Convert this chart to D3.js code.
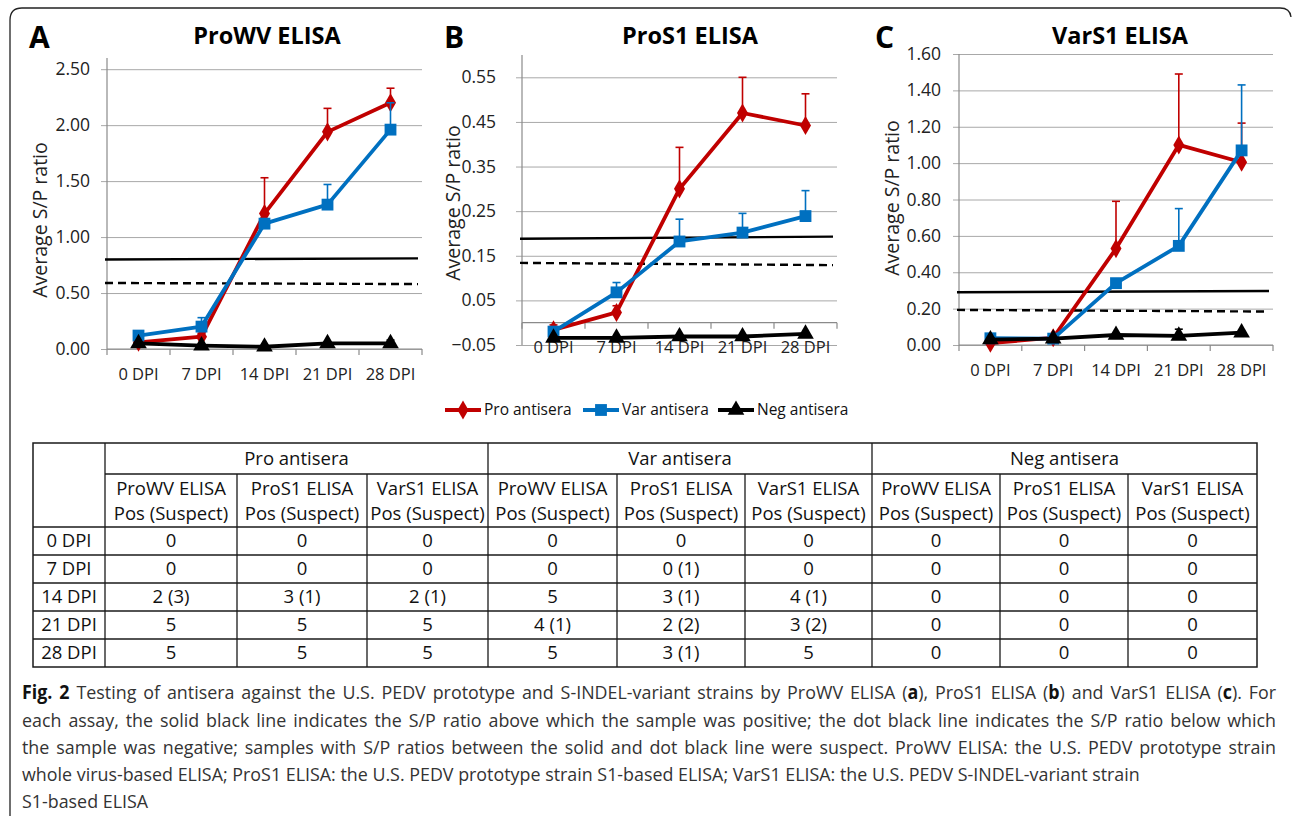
<!DOCTYPE html>
<html>
<head>
<meta charset="utf-8">
<script src="https://cdn.jsdelivr.net/npm/d3@7"></script>
<style>
body { margin: 0; background: #fff; }
text { font-family: "Open Sans", sans-serif; }
</style>
</head>
<body>
<script>
// ---- data ----
var dpi = ["0 DPI", "7 DPI", "14 DPI", "21 DPI", "28 DPI"];
var seriesNames = ["Pro antisera", "Var antisera", "Neg antisera"];

// ProWV ELISA
var proWV     = [0.06, 0.11, 1.21, 1.94, 2.20];
var proWVHi   = [null, 0.14, 1.53, 2.15, 2.33];
var varWV     = [0.12, 0.20, 1.12, 1.29, 1.96];
var varWVHi   = [null, 0.28, null, 1.47, 2.20];
var negWV     = [0.05, 0.03, 0.02, 0.05, 0.05];
var negWVHi   = [null, null, null, null, 0.08];
var posCutWV  = [0.80, 0.81];
var negCutWV  = [0.59, 0.58];
var ticksWV   = [0, 0.5, 1.0, 1.5, 2.0, 2.5];

// ProS1 ELISA
var proS1     = [-0.016, 0.023, 0.30, 0.47, 0.442];
var proS1Hi   = [-0.005, 0.038, 0.393, 0.55, 0.513];
var varS1p    = [-0.02, 0.068, 0.182, 0.202, 0.239];
var varS1pHi  = [null, 0.09, 0.232, 0.245, 0.296];
var negS1p    = [-0.034, -0.034, -0.031, -0.031, -0.025];
var negS1pHi  = [null, null, null, null, null];
var posCutS1p = [0.188, 0.193];
var negCutS1p = [0.134, 0.129];
var ticksS1p  = [-0.05, 0.05, 0.15, 0.25, 0.35, 0.45, 0.55];

// VarS1 ELISA
var proVS1    = [0.01, 0.04, 0.53, 1.10, 1.005];
var proVS1Hi  = [null, null, 0.79, 1.49, 1.22];
var varVS1    = [0.037, 0.035, 0.34, 0.545, 1.07];
var varVS1Hi  = [null, null, null, 0.75, 1.43];
var negVS1    = [0.03, 0.035, 0.055, 0.05, 0.068];
var negVS1Hi  = [null, null, null, 0.087, null];
var posCutVS1 = [0.29, 0.297];
var negCutVS1 = [0.193, 0.184];
var ticksVS1  = [0, 0.2, 0.4, 0.6, 0.8, 1.0, 1.2, 1.4, 1.6];

// table
var groupHeads = ["Pro antisera", "Var antisera", "Neg antisera"];
var assayHeads = ["ProWV ELISA", "ProS1 ELISA", "VarS1 ELISA"];
var tableRows = [
  ["0 DPI",  "0",     "0",     "0",     "0",     "0",     "0",     "0", "0", "0"],
  ["7 DPI",  "0",     "0",     "0",     "0",     "0 (1)", "0",     "0", "0", "0"],
  ["14 DPI", "2 (3)", "3 (1)", "2 (1)", "5",     "3 (1)", "4 (1)", "0", "0", "0"],
  ["21 DPI", "5",     "5",     "5",     "4 (1)", "2 (2)", "3 (2)", "0", "0", "0"],
  ["28 DPI", "5",     "5",     "5",     "5",     "3 (1)", "5",     "0", "0", "0"]
];

var captionLines = [
  [["Fig. 2", true], [" Testing of antisera against the U.S. PEDV prototype and S-INDEL-variant strains by ProWV ELISA (", false], ["a", true], ["), ProS1 ELISA (", false], ["b", true], [") and VarS1 ELISA (", false], ["c", true], ["). For", false]],
  [["each assay, the solid black line indicates the S/P ratio above which the sample was positive; the dot black line indicates the S/P ratio below which", false]],
  [["the sample was negative; samples with S/P ratios between the solid and dot black line were suspect. ProWV ELISA: the U.S. PEDV prototype strain", false]],
  [["whole virus-based ELISA; ProS1 ELISA: the U.S. PEDV prototype strain S1-based ELISA; VarS1 ELISA: the U.S. PEDV S-INDEL-variant strain", false]],
  [["S1-based ELISA", false]]
];

// ---- layout ----
var colors = ["#c00000", "#0070c0", "#000000"];
var W = 1292, H = 818;

var svg = d3.select("body").append("svg")
  .attr("width", W).attr("height", H);

// frame
svg.append("path")
  .attr("d", "M10,816 L10,20 Q10,8 22,8 L1280,8 Q1290,8 1291,17")
  .attr("fill", "none").attr("stroke", "#222").attr("stroke-width", 1.3);

var panels = [
  {letter: "A", title: "ProWV ELISA", lx: 29, tx: 267, left: 107, right: 422, yBot: 349, yTop: 58, domain: [0, 2.6],
   ticks: ticksWV, gap: 17, ylx: 40, yly: 220,
   series: [[proWV, proWVHi], [varWV, varWVHi], [negWV, negWVHi]], pos: posCutWV, neg: negCutWV},
  {letter: "B", title: "ProS1 ELISA", lx: 444, tx: 690, left: 522, right: 837, yBot: 345, yTop: 55, domain: [-0.05, 0.6],
   ticks: ticksS1p, gap: 26, ylx: 453, yly: 203,
   series: [[proS1, proS1Hi], [varS1p, varS1pHi], [negS1p, negS1pHi]], pos: posCutS1p, neg: negCutS1p},
  {letter: "C", title: "VarS1 ELISA", lx: 875, tx: 1120, left: 959, right: 1273, yBot: 345, yTop: 54, domain: [0, 1.6],
   ticks: ticksVS1, gap: 18, ylx: 892, yly: 198,
   series: [[proVS1, proVS1Hi], [varVS1, varVS1Hi], [negVS1, negVS1Hi]], pos: posCutVS1, neg: negCutVS1}
];

var markerTypes = [d3.symbolDiamond, d3.symbolSquare, d3.symbolTriangle];
var markerSizes = [105, 140, 120];

function marker(g, i) {
  return g.append("path")
    .attr("d", d3.symbol().type(markerTypes[i]).size(markerSizes[i])())
    .attr("fill", colors[i]);
}

panels.forEach(function(p) {
  var x = d3.scaleBand().domain(dpi).range([p.left, p.right]);
  var y = d3.scaleLinear().domain(p.domain).range([p.yBot, p.yTop]);
  var g = svg.append("g");

  g.append("text").attr("x", p.lx).attr("y", 48)
    .attr("font-size", 30).attr("font-weight", "bold").text(p.letter);
  g.append("text").attr("x", p.tx).attr("y", 44).attr("text-anchor", "middle")
    .attr("font-size", 23.5).attr("font-weight", "bold").text(p.title);

  // gridlines
  var grid = g.append("g").attr("transform", "translate(" + (p.left - 6) + ",0)")
    .call(d3.axisLeft(y).tickValues(p.ticks).tickSize(-(p.right - p.left + 6)).tickFormat(""));
  grid.select(".domain").remove();
  grid.selectAll("line").attr("stroke", "#a8a8a8").attr("stroke-width", 1);

  // tick labels
  var yl = g.append("g").attr("transform", "translate(" + p.left + ",0)")
    .call(d3.axisLeft(y).tickValues(p.ticks).tickSize(0).tickPadding(p.gap).tickFormat(d3.format(".2f")));
  yl.select(".domain").remove();
  yl.selectAll("text").attr("font-size", 17.5).attr("fill", "#222").style("font-family", "'Open Sans', sans-serif");

  // y axis line
  g.append("line").attr("x1", p.left).attr("x2", p.left)
    .attr("y1", p.yTop).attr("y2", p.yBot).attr("stroke", "#8a8a8a").attr("stroke-width", 1.2);

  // x axis at zero
  var y0 = y(0);
  g.append("line").attr("x1", p.left).attr("x2", p.right).attr("y1", y0).attr("y2", y0)
    .attr("stroke", "#8a8a8a").attr("stroke-width", 1.2);
  var bounds = dpi.map(function(d) { return x(d); }).concat([x(dpi[dpi.length - 1]) + x.bandwidth()]);
  g.selectAll(".xt").data(bounds).enter().append("line")
    .attr("x1", function(d) { return d; }).attr("x2", function(d) { return d; })
    .attr("y1", y0).attr("y2", y0 + 6).attr("stroke", "#8a8a8a").attr("stroke-width", 1.2);

  var xl = g.append("g").attr("transform", "translate(0," + y0 + ")")
    .call(d3.axisBottom(x).tickSize(0).tickPadding(19));
  xl.select(".domain").remove();
  xl.selectAll("text").attr("font-size", 16.5).attr("fill", "#222").style("font-family", "'Open Sans', sans-serif");

  // y axis title
  g.append("text").attr("transform", "translate(" + p.ylx + "," + p.yly + ") rotate(-90)")
    .attr("text-anchor", "middle").attr("dy", "0.35em").attr("font-size", 19.5).attr("fill", "#222")
    .text("Average S/P ratio");

  // cut-off lines
  g.append("line").attr("x1", p.left - 2).attr("x2", p.right - 4)
    .attr("y1", y(p.pos[0])).attr("y2", y(p.pos[1]))
    .attr("stroke", "#000").attr("stroke-width", 2.4);
  g.append("line").attr("x1", p.left - 2).attr("x2", p.right - 4)
    .attr("y1", y(p.neg[0])).attr("y2", y(p.neg[1]))
    .attr("stroke", "#000").attr("stroke-width", 2.4).attr("stroke-dasharray", "8,5");

  var cx = function(i) { return x(dpi[i]) + x.bandwidth() / 2; };

  p.series.forEach(function(s, si) {
    var vals = s[0], hi = s[1];
    var sg = g.append("g");
    // error bars (upper only)
    hi.forEach(function(h, i) {
      if (h === null) return;
      sg.append("line").attr("x1", cx(i)).attr("x2", cx(i)).attr("y1", y(vals[i])).attr("y2", y(h))
        .attr("stroke", colors[si]).attr("stroke-width", 1.6);
      sg.append("line").attr("x1", cx(i) - 4).attr("x2", cx(i) + 4).attr("y1", y(h)).attr("y2", y(h))
        .attr("stroke", colors[si]).attr("stroke-width", 1.6);
    });
    var line = d3.line().x(function(d, i) { return cx(i); }).y(function(d) { return y(d); });
    sg.append("path").datum(vals).attr("d", line)
      .attr("fill", "none").attr("stroke", colors[si]).attr("stroke-width", 3.8)
      .attr("stroke-linejoin", "round");
    vals.forEach(function(v, i) {
      marker(sg, si).attr("transform", "translate(" + cx(i) + "," + y(v) + ")");
    });
  });
});

// legend
var legX = [445, 583, 718];
seriesNames.forEach(function(n, i) {
  var lg = svg.append("g").attr("transform", "translate(" + legX[i] + ",410)");
  lg.append("line").attr("x1", 0).attr("x2", 36).attr("y1", 0).attr("y2", 0)
    .attr("stroke", colors[i]).attr("stroke-width", 3.8);
  marker(lg, i).attr("transform", "translate(18,0)");
  lg.append("text").attr("x", 39).attr("y", 0).attr("dy", "0.35em")
    .attr("font-size", 15.5).attr("fill", "#111").text(n);
});

// table
var colX = [33, 105, 237, 367, 488, 617, 745, 872, 1000, 1128, 1257];
var rowY = [443, 474, 527, 555, 583, 611, 639, 667];
var tb = svg.append("g").attr("fill", "#111");
var tstroke = "#1a1a1a";

tb.append("rect").attr("x", colX[0]).attr("y", rowY[0])
  .attr("width", colX[10] - colX[0]).attr("height", rowY[7] - rowY[0])
  .attr("fill", "none").attr("stroke", tstroke).attr("stroke-width", 1.5);
tb.append("line").attr("x1", colX[1]).attr("x2", colX[10]).attr("y1", rowY[1]).attr("y2", rowY[1])
  .attr("stroke", tstroke).attr("stroke-width", 1.3);
rowY.slice(2, 7).forEach(function(yy) {
  tb.append("line").attr("x1", colX[0]).attr("x2", colX[10]).attr("y1", yy).attr("y2", yy)
    .attr("stroke", tstroke).attr("stroke-width", 1.3);
});
colX.slice(1, 10).forEach(function(xx, i) {
  var top = (i % 3 === 0) ? rowY[0] : rowY[1];
  tb.append("line").attr("x1", xx).attr("x2", xx).attr("y1", top).attr("y2", rowY[7])
    .attr("stroke", tstroke).attr("stroke-width", 1.3);
});

var tfs = 18.5;
groupHeads.forEach(function(h, i) {
  tb.append("text").attr("x", (colX[1 + 3 * i] + colX[4 + 3 * i]) / 2).attr("y", (rowY[0] + rowY[1]) / 2)
    .attr("dy", "0.35em").attr("text-anchor", "middle").attr("font-size", tfs).text(h);
});
for (var c = 0; c < 9; c++) {
  var mx = (colX[c + 1] + colX[c + 2]) / 2;
  tb.append("text").attr("x", mx).attr("y", 489).attr("dy", "0.35em")
    .attr("text-anchor", "middle").attr("font-size", tfs).text(assayHeads[c % 3]);
  tb.append("text").attr("x", mx).attr("y", 514).attr("dy", "0.35em")
    .attr("text-anchor", "middle").attr("font-size", tfs).text("Pos (Suspect)");
}
tableRows.forEach(function(r, ri) {
  var yy = (rowY[ri + 2] + rowY[ri + 3]) / 2;
  r.forEach(function(v, ci) {
    tb.append("text").attr("x", (colX[ci] + colX[ci + 1]) / 2).attr("y", yy).attr("dy", "0.35em")
      .attr("text-anchor", "middle").attr("font-size", tfs).text(v);
  });
});

// caption: slight horizontal squeeze so line 4 ends where it does, first three lines justified
var capBase = [699, 727, 754, 781, 808];
var capNodes = captionLines.map(function(parts, li) {
  var t = svg.append("text").attr("x", 0).attr("y", 0)
    .attr("font-size", 19).attr("fill", "#333");
  parts.forEach(function(pt) {
    t.append("tspan").attr("font-weight", pt[1] ? "bold" : "normal")
      .attr("fill", pt[1] ? "#111" : "#333").text(pt[0]);
  });
  return t;
});
var squeeze = Math.min(1, 1118 / capNodes[3].node().getComputedTextLength());
capNodes.forEach(function(t, li) {
  t.attr("transform", "translate(22," + capBase[li] + ") scale(" + squeeze + ",1)");
  if (li < 3) {
    var natural = t.node().getComputedTextLength();
    var spaces = t.text().split(" ").length - 1;
    var extra = (1254 / squeeze - natural) / spaces;
    t.style("word-spacing", extra + "px");
  }
});
</script>
</body>
</html>
